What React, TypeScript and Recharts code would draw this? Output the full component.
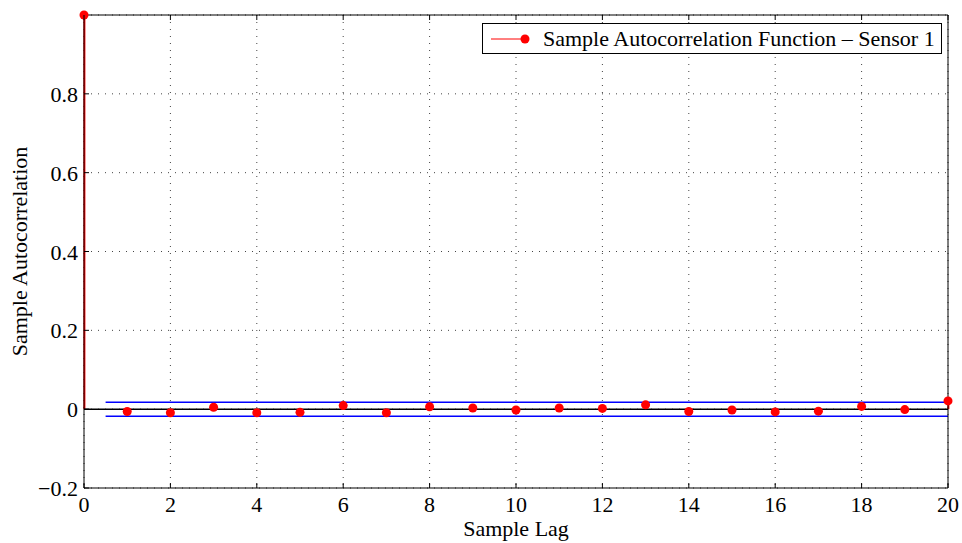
import React from 'react';
import { ComposedChart, Bar, Scatter, XAxis, YAxis, CartesianGrid, ReferenceLine, Label } from 'recharts';

const lags = [0, 1, 2, 3, 4, 5, 6, 7, 8, 9, 10, 11, 12, 13, 14, 15, 16, 17, 18, 19, 20];
const acfValues = [1, -0.006, -0.009, 0.005, -0.009, -0.008, 0.009, -0.009, 0.006, 0.003, -0.002, 0.003, 0.002, 0.011, -0.006, -0.002, -0.007, -0.005, 0.007, -0.001, 0.021];
const xTicks = [0, 2, 4, 6, 8, 10, 12, 14, 16, 18, 20];
const yTicks = [-0.2, 0, 0.2, 0.4, 0.6, 0.8];
const confBound = 0.0178;
const boundStartLag = 0.5;
const boundEndLag = 20;
const seriesName = 'Sample Autocorrelation Function \u2013 Sensor 1';
const xLabel = 'Sample Lag';
const yLabel = 'Sample Autocorrelation';

const data = lags.map((lag, i) => ({ lag, acf: acfValues[i] }));

const FONT = '"Liberation Serif", "Times New Roman", serif';
const FS = 22;
const M = 6;
const TL = 5;

const fmtY = (v: number) => {
  const s = String(Math.round(v * 10) / 10);
  return s.replace('-', '\u2212');
};

const BottomTick = (p: any) => (
  <g>
    <line x1={p.x} x2={p.x} y1={p.y - M} y2={p.y - M - TL} stroke="#000" />
    <text x={p.x} y={p.y + 18} textAnchor="middle" fontFamily={FONT} fontSize={FS} fill="#000">{p.payload.value}</text>
  </g>
);
const TopTick = (p: any) => (
  <line x1={p.x} x2={p.x} y1={p.y + M} y2={p.y + M + TL} stroke="#000" />
);
const LeftTick = (p: any) => (
  <g>
    <line x1={p.x + M} x2={p.x + M + TL} y1={p.y} y2={p.y} stroke="#000" />
    <text x={p.x} y={p.y + 8} textAnchor="end" fontFamily={FONT} fontSize={FS} fill="#000">{fmtY(p.payload.value)}</text>
  </g>
);
const RightTick = (p: any) => (
  <line x1={p.x - M} x2={p.x - M - TL} y1={p.y} y2={p.y} stroke="#000" />
);

const LegendBox = () => (
  <div style={{ position: 'absolute', left: 482, top: 23, width: 458, height: 29, border: '1px solid #000', background: '#fff', display: 'flex', alignItems: 'center', fontFamily: FONT, fontSize: FS, color: '#000' }}>
    <svg width={52} height={29} style={{ flex: 'none' }}>
      <line x1={8} x2={42} y1={15} y2={15} stroke="red" strokeWidth={1} />
      <circle cx={42} cy={15} r={4.5} fill="red" />
    </svg>
    <span style={{ marginLeft: 8, whiteSpace: 'nowrap' }}>{seriesName}</span>
  </div>
);

export default function App() {
  return (
    <div style={{ position: 'absolute', left: 0, top: 0, width: 962, height: 543, background: '#fff' }}>
      <ComposedChart width={962} height={543} data={data} margin={{ top: 5, right: 4, bottom: 0, left: 0 }}>
        <CartesianGrid xAxisId="x" yAxisId="y" stroke="#444" strokeDasharray="1 6" />
        <XAxis xAxisId="x" dataKey="lag" type="number" domain={[0, 20]} ticks={xTicks} interval={0}
          height={55} tickSize={0} tickMargin={M} axisLine={{ stroke: '#000' }} tick={BottomTick}>
          <Label content={(p: any) => (
            <text x={p.viewBox.x + p.viewBox.width / 2} y={536} textAnchor="middle" fontFamily={FONT} fontSize={FS} fill="#000">{xLabel}</text>
          )} />
        </XAxis>
        <XAxis xAxisId="xt" orientation="top" dataKey="lag" type="number" domain={[0, 20]} ticks={xTicks} interval={0}
          height={10} tickSize={0} tickMargin={M} axisLine={{ stroke: '#000' }} tick={TopTick} />
        <YAxis yAxisId="y" type="number" domain={[-0.2, 1]} ticks={yTicks} interval={0}
          width={84} tickSize={0} tickMargin={M} axisLine={{ stroke: '#000' }} tick={LeftTick}>
          <Label content={(p: any) => {
            const cx = 27;
            const cy = p.viewBox.y + p.viewBox.height / 2;
            return (
              <text x={cx} y={cy} transform={`rotate(-90, ${cx}, ${cy})`} textAnchor="middle" fontFamily={FONT} fontSize={FS} fill="#000">{yLabel}</text>
            );
          }} />
        </YAxis>
        <YAxis yAxisId="yr" orientation="right" type="number" domain={[-0.2, 1]} ticks={yTicks} interval={0}
          width={10} tickSize={0} tickMargin={M} axisLine={{ stroke: '#000' }} tick={RightTick} />
        <ReferenceLine xAxisId="x" yAxisId="y" y={0} stroke="#000" strokeWidth={1.5} />
        <ReferenceLine xAxisId="x" yAxisId="y" segment={[{ x: boundStartLag, y: confBound }, { x: boundEndLag, y: confBound }]} stroke="#0000ff" strokeWidth={1.5} />
        <ReferenceLine xAxisId="x" yAxisId="y" segment={[{ x: boundStartLag, y: -confBound }, { x: boundEndLag, y: -confBound }]} stroke="#0000ff" strokeWidth={1.5} />
        <Bar xAxisId="x" yAxisId="y" dataKey="acf" barSize={2} fill="red" isAnimationActive={false} legendType="none" />
        <Scatter xAxisId="x" yAxisId="y" dataKey="acf" name={seriesName} fill="red" isAnimationActive={false}
          shape={(p: any) => <circle cx={p.cx} cy={p.cy} r={4.5} fill="red" />} />
      </ComposedChart>
      <LegendBox />
    </div>
  );
}
